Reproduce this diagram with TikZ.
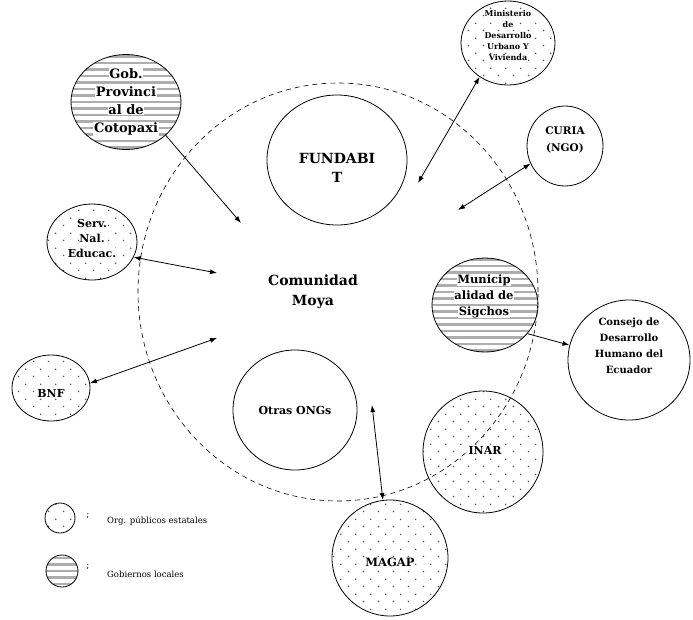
\documentclass[tikz,border=0pt]{standalone}
\usepackage{fontspec}
\setmainfont{DejaVu Serif}
\usetikzlibrary{shapes.geometric,arrows.meta,patterns}
\pgfdeclarepatternformonly{sdots}{\pgfqpoint{0pt}{0pt}}{\pgfqpoint{15pt}{15pt}}{\pgfqpoint{15pt}{15pt}}{%
  \pgfpathcircle{\pgfqpoint{3.75pt}{3.75pt}}{0.9pt}%
  \pgfpathcircle{\pgfqpoint{11.25pt}{11.25pt}}{0.9pt}%
  \pgfusepath{fill}}
\newcommand{\wb}[1]{{\setlength{\fboxsep}{0.6pt}\colorbox{white}{#1}}}
\tikzset{
  ell/.style={ellipse, draw, line width=0.8pt, inner sep=0pt},
  dotted circ/.style={ell, pattern=sdots, pattern color=black!65},
  hatch circ/.style={ell, path picture={
      \foreach \k in {-9,...,9}
        \draw[black!32, line width=2.2pt]
          ([yshift=\k*6.5pt]path picture bounding box.west) --
          ([yshift=\k*6.5pt]path picture bounding box.east);}},
  txt/.style={align=center, font=\bfseries, inner sep=0pt},
  conn/.style={line width=0.8pt},
  tip/.style={-{Latex[length=7pt,width=5pt]}},
  dtip/.style={{Latex[length=7pt,width=5pt]}-{Latex[length=7pt,width=5pt]}},
}
\newcommand{\fs}[2]{\fontsize{#1}{#2}\selectfont}
\begin{document}
\begin{tikzpicture}[x=1pt,y=-1pt]
\useasboundingbox (0,0) rectangle (693,619);
% big dashed circle
\node[ellipse, draw, dash pattern=on 5pt off 4pt, line width=0.6pt, minimum width=400pt, minimum height=418pt] (big) at (338,292) {};
% circles
\node[hatch circ, minimum width=110pt, minimum height=95pt] (gob) at (126,102) {};
\node[dotted circ, minimum width=94pt, minimum height=84pt] (min) at (508,43) {};
\node[ell, minimum width=76pt, minimum height=80pt] (curia) at (565,146) {};
\node[ell, minimum width=140pt, minimum height=130pt] (fund) at (337,160) {};
\node[dotted circ, minimum width=90pt, minimum height=76pt] (serv) at (92,242) {};
\node[hatch circ, minimum width=106pt, minimum height=94pt] (muni) at (485,305) {};
\node[ell, minimum width=122pt, minimum height=120pt] (cons) at (629,360) {};
\node[dotted circ, minimum width=78pt, minimum height=66pt] (bnf) at (51,388) {};
\node[ell, minimum width=124pt, minimum height=120pt] (otras) at (295,410) {};
\node[dotted circ, minimum width=120pt, minimum height=122pt] (inar) at (483,452) {};
\node[dotted circ, minimum width=116pt, minimum height=116pt] (magap) at (390,558) {};
% texts
\node[txt, font=\bfseries\fs{13}{18}] (gobT) at (126,102) {\wb{Gob.}\\\wb{Provinci}\\\wb{al de}\\\wb{Cotopaxi}};
\node[txt, font=\bfseries\fs{8}{11}] (minT) at (508,36) {\wb{Ministerio}\\\wb{de}\\\wb{Desarrollo}\\\wb{Urbano Y}\\\wb{Vivienda}};
\node[txt, font=\bfseries\fs{10.5}{17}] (curiaT) at (565,140) {CURIA\\(NGO)};
\node[txt, font=\bfseries\fs{14}{19}] (fundT) at (337,168) {FUNDABI\\T};
\node[txt, font=\bfseries\fs{11}{15}] (servT) at (92,238) {\wb{Serv.}\\\wb{Nal.}\\\wb{Educac.}};
\node[txt, font=\bfseries\fs{14}{20}] (moya) at (313,292) {Comunidad\\Moya};
\node[txt, font=\bfseries\fs{11.5}{16}] (muniT) at (484,296) {\wb{Municip}\\\wb{alidad de}\\\wb{Sigchos}};
\node[txt, font=\bfseries\fs{10}{16}] (consT) at (629,346) {Consejo de\\Desarrollo\\Humano del\\Ecuador};
\node[txt, font=\bfseries\fs{11}{14}] (bnfT) at (51,393) {\wb{BNF}};
\node[txt, font=\bfseries\fs{11}{14}] (otrasT) at (295,410) {Otras ONGs};
\node[txt, font=\bfseries\fs{11}{14}] (inarT) at (485,450) {\wb{INAR}};
\node[txt, font=\bfseries\fs{11.5}{14}] (magapT) at (390,562) {\wb{MAGAP}};
% free ends
\coordinate (e1) at (241,223);
\coordinate (e2) at (418,183);
\coordinate (e3) at (458,210);
\coordinate (e4) at (217,273);
\coordinate (e5) at (217,338);
\coordinate (e7) at (372,405);
% connectors
\draw[conn, tip] (gob.-40) -- (e1);
\draw[conn, dtip] (min.-130) -- (e2);
\draw[conn, dtip] (curia.-153) -- (e3);
\draw[conn, dtip] (serv.-20) -- (e4);
\draw[conn, dtip] (bnf.7) -- (e5);
\draw[conn, tip] (muni.-34) -- (cons.166);
\draw[conn, dtip] (magap.97) -- (e7);
% legend
\node[dotted circ, minimum width=30pt, minimum height=30pt] (leg1) at (60,518) {};
\node[hatch circ, minimum width=32pt, minimum height=32pt] (leg2) at (62,571) {};
\node[font=\fs{9}{11}, inner sep=0pt] (semi1) at (88,516) {;};
\node[font=\fs{9}{11}, inner sep=0pt] (semi2) at (88,567) {;};
\node[font=\fs{8.5}{11}, anchor=west, inner sep=0pt] (leg1T) at (107,521) {Org. públicos estatales};
\node[font=\fs{8.5}{11}, anchor=west, inner sep=0pt] (leg2T) at (107,574) {Gobiernos locales};
\end{tikzpicture}
\end{document}
